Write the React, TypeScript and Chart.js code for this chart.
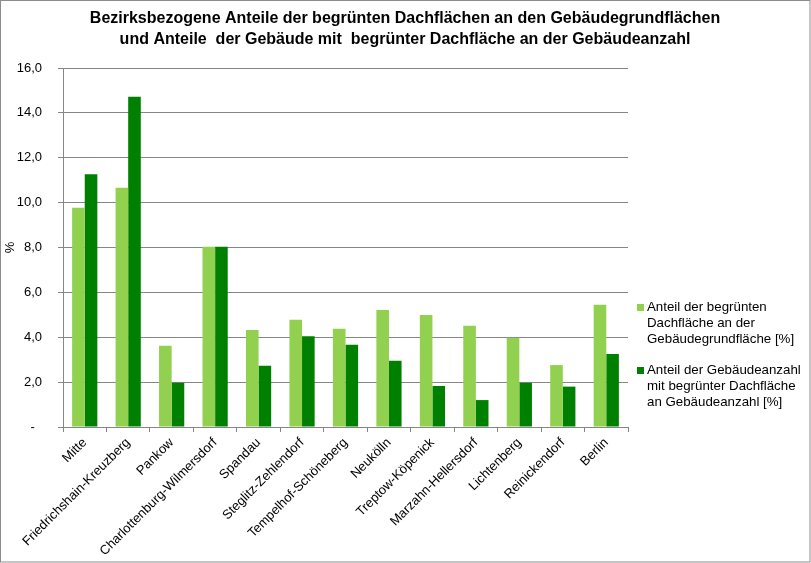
import React, { useEffect, useRef } from "react";
import { Chart, registerables } from "chart.js";

Chart.register(...registerables);

const categories = [
  "Mitte",
  "Friedrichshain-Kreuzberg",
  "Pankow",
  "Charlottenburg-Wilmersdorf",
  "Spandau",
  "Steglitz-Zehlendorf",
  "Tempelhof-Schöneberg",
  "Neukölln",
  "Treptow-Köpenick",
  "Marzahn-Hellersdorf",
  "Lichtenberg",
  "Reinickendorf",
  "Berlin",
];

const anteilDachflaeche = [9.77, 10.66, 3.62, 8.03, 4.32, 4.78, 4.38, 5.21, 4.99, 4.51, 3.98, 2.76, 5.45];
const anteilGebaeude = [11.27, 14.72, 1.97, 8.03, 2.73, 4.04, 3.67, 2.95, 1.83, 1.2, 1.97, 1.8, 3.25];

const titleLines = [
  "Bezirksbezogene Anteile der begrünten Dachflächen an den Gebäudegrundflächen",
  "und Anteile  der Gebäude mit  begrünter Dachfläche an der Gebäudeanzahl",
];

const legendItems = [
  { color: "#92D050", lines: ["Anteil der begrünten", "Dachfläche an der", "Gebäudegrundfläche [%]"] },
  { color: "#008000", lines: ["Anteil der Gebäudeanzahl", "mit begrünter Dachfläche", "an Gebäudeanzahl [%]"] },
];

const FONT = "'Liberation Sans', Arial, sans-serif";

const decorPlugin = {
  id: "decor",
  afterDraw(chart: any) {
    const ctx = chart.ctx as CanvasRenderingContext2D;
    ctx.save();
    // title
    ctx.fillStyle = "#000";
    ctx.font = `bold 16px ${FONT}`;
    ctx.textAlign = "center";
    ctx.textBaseline = "middle";
    ctx.fillText(titleLines[0], 405, 19);
    ctx.fillText(titleLines[1], 405, 40);
    // legend
    ctx.font = `13.3px ${FONT}`;
    ctx.textAlign = "left";
    const starts = [307, 370];
    legendItems.forEach((it, i) => {
      const y0 = starts[i];
      ctx.fillStyle = it.color;
      ctx.fillRect(637, y0 - 3, 7, 7);
      ctx.fillStyle = "#000";
      it.lines.forEach((l, j) => ctx.fillText(l, 647, y0 + j * 16.3));
    });
    // border
    ctx.strokeStyle = "#8c8c8c";
    ctx.lineWidth = 1;
    ctx.strokeRect(0.5, 0.5, 809.5, 561.5);
    ctx.restore();
  },
};

export default function App() {
  const ref = useRef<HTMLCanvasElement | null>(null);
  useEffect(() => {
    if (!ref.current) return;
    Chart.defaults.font.family = FONT;
    const chart = new Chart(ref.current, {
      type: "bar",
      data: {
        labels: categories,
        datasets: [
          {
            label: "Anteil der begrünten Dachfläche an der Gebäudegrundfläche [%]",
            data: anteilDachflaeche,
            backgroundColor: "#92D050",
            categoryPercentage: 0.58,
            barPercentage: 1,
          },
          {
            label: "Anteil der Gebäudeanzahl mit begrünter Dachfläche an Gebäudeanzahl [%]",
            data: anteilGebaeude,
            backgroundColor: "#008000",
            categoryPercentage: 0.58,
            barPercentage: 1,
          },
        ],
      },
      options: {
        responsive: false,
        animation: false,
        devicePixelRatio: 1,
        layout: { padding: { top: 68, right: 183, bottom: 0, left: 0 } },
        plugins: {
          legend: { display: false },
          title: { display: false },
          tooltip: { enabled: false },
        },
        scales: {
          x: {
            offset: true,
            grid: {
              display: true,
              offset: true,
              drawOnChartArea: false,
              drawTicks: true,
              tickLength: 5,
              color: "#868686",
            },
            border: { color: "#868686" },
            ticks: {
              color: "#000",
              font: { size: 13, family: FONT },
              maxRotation: 45,
              minRotation: 45,
              autoSkip: false,
              padding: 3,
            },
            afterFit(scale: any) {
              scale.height = 136;
            },
          },
          y: {
            min: 0,
            max: 16,
            grid: { color: "#868686", tickLength: 5, drawTicks: true },
            border: { color: "#868686" },
            ticks: {
              stepSize: 2,
              color: "#000",
              padding: 16,
              font: { size: 13, family: FONT },
              callback: (v: any) => (Number(v) === 0 ? "-  " : Number(v).toFixed(1).replace(".", ",")),
            },
            title: {
              display: true,
              text: "%",
              color: "#000",
              font: { size: 13, family: FONT },
              padding: { top: 3, bottom: 0 },
            },
            afterFit(scale: any) {
              scale.width = 63;
            },
          },
        },
      },
      plugins: [decorPlugin],
    } as any);
    return () => chart.destroy();
  }, []);
  return (
    <div style={{ position: "absolute", left: 0, top: 0, width: 811, height: 563, background: "#fff" }}>
      <canvas ref={ref} width={811} height={563} style={{ display: "block" }} />
    </div>
  );
}
